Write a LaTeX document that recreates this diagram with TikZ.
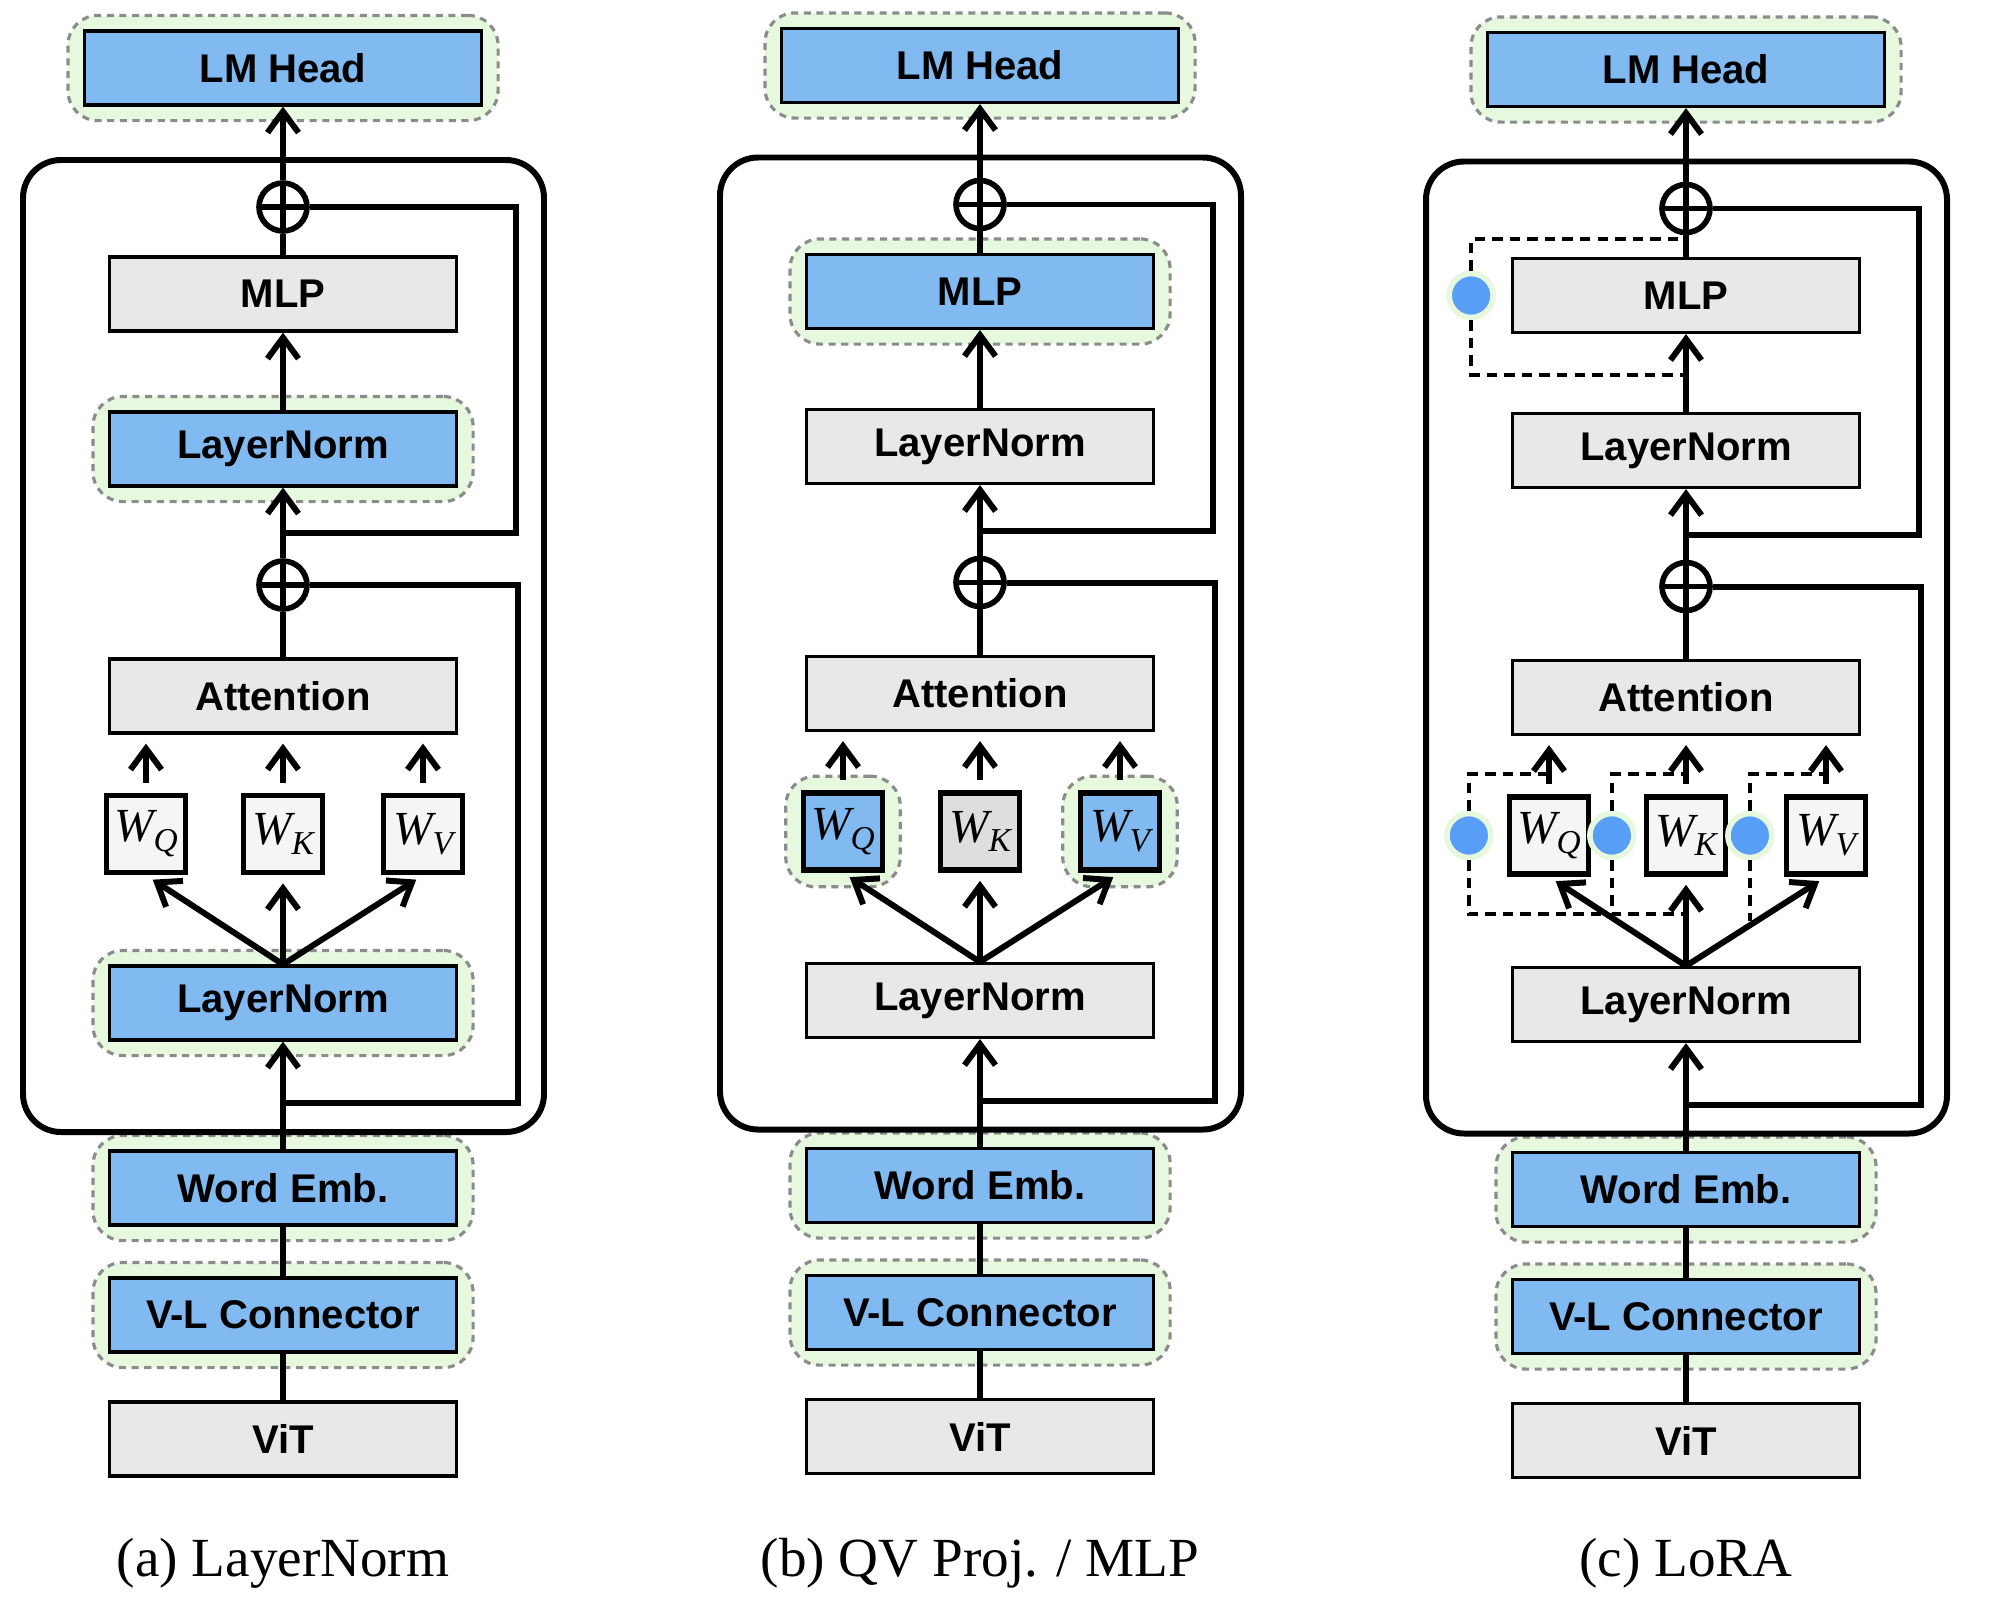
\documentclass[tikz,border=0pt]{standalone}
\usepackage{fontspec}
\setmainfont{Liberation Serif}
\setsansfont{Liberation Sans}
\usetikzlibrary{arrows.meta,positioning,fit,backgrounds,calc}

\definecolor{tunedblue}{RGB}{128,186,240}
\definecolor{frozengray}{RGB}{232,232,232}
\definecolor{wlight}{RGB}{245,245,245}
\definecolor{wdark}{RGB}{222,222,222}
\definecolor{halogreen}{RGB}{230,248,222}
\definecolor{halodash}{RGB}{140,140,140}
\definecolor{lorablue}{RGB}{88,158,246}

\newcommand{\wmat}[1]{{\itshape W}\raisebox{-0.45ex}{\fontsize{9.5}{10}\selectfont\itshape #1}}

\tikzset{
  blk/.style={draw, line width=0.9pt, minimum width=3.47cm, minimum height=0.74cm,
    inner sep=0pt, font=\sffamily\bfseries\fontsize{11.4}{13}\selectfont},
  tuned/.style={blk, fill=tunedblue},
  frozen/.style={blk, fill=frozengray},
  wbox/.style={draw, line width=1.6pt, minimum width=0.79cm, minimum height=0.77cm,
    inner sep=0pt, font=\fontsize{13.5}{15}\selectfont},
  wplain/.style={wbox, fill=wlight},
  wfrozen/.style={wbox, fill=wdark},
  wtuned/.style={wbox, fill=tunedblue},
  halo/.style={draw=halodash, fill=halogreen, dash pattern=on 2pt off 1.6pt,
    line width=0.9pt, rounded corners=0.3cm, inner xsep=0.15cm, inner ysep=0.14cm},
  addop/.style={circle, draw, line width=1.6pt, minimum size=0.48cm, inner sep=0pt,
    path picture={\draw[line width=1.6pt]
      (path picture bounding box.north) -- (path picture bounding box.south)
      (path picture bounding box.west) -- (path picture bounding box.east);}},
  conn/.style={line width=1.7pt},
  flow/.style={conn, -{Straight Barb[length=2.1mm,width=3.1mm]}},
  lora/.style={line width=1pt, dash pattern=on 3pt off 2pt},
  loradot/.style={circle, fill=lorablue, draw=halogreen, line width=1.6pt,
    minimum size=0.44cm, inner sep=0pt},
  block/.style={line width=1.7pt, rounded corners=0.38cm},
  caption/.style={font=\fontsize{15.7}{18}\selectfont}
}

\begin{document}
\begin{tikzpicture}
\useasboundingbox (0,0) rectangle (20.06,-16.07);

% one transformer column per setting
\foreach \p/\cx/\dy/\nup/\mlp/\ndown/\wq/\wk/\wv in {
    a/2.83/0/tuned/frozen/tuned/wplain/wplain/wplain,
    b/9.80/0.025/frozen/tuned/frozen/wtuned/wfrozen/wtuned,
    c/16.86/-0.015/frozen/frozen/frozen/wplain/wplain/wplain}{
  \begin{scope}[shift={(\cx,\dy)}]
    \draw[block] (-2.60,-1.60) rectangle (2.61,-11.32);
    \node[tuned, minimum width=3.97cm] (head\p) at (0,-0.68) {LM Head};
    \node[addop] (addup\p) at (0,-2.07) {};
    \node[\mlp] (mlp\p) at (0,-2.94) {MLP};
    \node[\nup] (normup\p) at (0,-4.49) {LayerNorm};
    \node[addop] (adddown\p) at (0,-5.85) {};
    \node[frozen] (attn\p) at (0,-6.96) {Attention};
    \node[\wq] (wq\p) at (-1.37,-8.34) {\wmat{Q}};
    \node[\wk] (wk\p) at (0,-8.34) {\wmat{K}};
    \node[\wv] (wv\p) at (1.40,-8.34) {\wmat{V}};
    \node[\ndown] (normdown\p) at (0,-10.03) {LayerNorm};
    \node[tuned] (emb\p) at (0,-11.88) {Word Emb.};
    \node[tuned] (vl\p) at (0,-13.15) {V-L Connector};
    \node[frozen] (vit\p) at (0,-14.39) {ViT};
    \coordinate (skipup\p) at (0,-5.33);
    \coordinate (skipdown\p) at (0,-11.03);

    \draw[conn] (vit\p) -- (vl\p);
    \draw[conn] (vl\p) -- (emb\p);
    \draw[flow] (emb\p) -- (normdown\p);
    \draw[flow, shorten >=0.08cm] (normdown\p.north) -- (wq\p.south);
    \draw[flow, shorten >=0.08cm] (normdown\p.north) -- (wk\p.south);
    \draw[flow, shorten >=0.08cm] (normdown\p.north) -- (wv\p.south);
    \draw[flow, shorten <=0.1cm, shorten >=0.09cm] (wq\p.north) -- (wq\p.north |- attn\p.south);
    \draw[flow, shorten <=0.1cm, shorten >=0.09cm] (wk\p.north) -- (wk\p.north |- attn\p.south);
    \draw[flow, shorten <=0.1cm, shorten >=0.09cm] (wv\p.north) -- (wv\p.north |- attn\p.south);
    \draw[conn] (attn\p) -- (adddown\p);
    \draw[flow] (adddown\p) -- (normup\p);
    \draw[flow] (normup\p) -- (mlp\p);
    \draw[conn] (mlp\p) -- (addup\p);
    \draw[flow] (addup\p) -- (head\p);
    \draw[conn] (skipdown\p) -- ++(2.35,0) |- (adddown\p.east);
    \draw[conn] (skipup\p) -- ++(2.33,0) |- (addup\p.east);
  \end{scope}
}

% trained parts
\begin{scope}[on background layer]
  \foreach \n in {heada,normupa,normdowna,emba,vla,
                  headb,mlpb,wqb,wvb,embb,vlb,
                  headc,embc,vlc}
    \node[halo, fit=(\n)] {};
\end{scope}

% LoRA adapters
\node[loradot, left=0.15cm of mlpc] (dotm) {};
\node[loradot, left=0.13cm of wqc] (dotq) {};
\node[loradot, left=0.07cm of wkc] (dotk) {};
\node[loradot, left=0.09cm of wvc] (dotv) {};
\coordinate (jq) at ($(normdownc.north)!0.58!(wqc.south)$);
\coordinate (jk) at ($(normdownc.north)!0.58!(wkc.south)$);
\coordinate (jv) at ($(normdownc.north)!0.5!(wvc.south)$);
\draw[lora] (dotm.north) |- ([yshift=0.18cm]mlpc.north);
\draw[lora] (dotm.south) |- ([yshift=-0.41cm]mlpc.south);
\draw[lora] (dotq.north) |- ([yshift=0.2cm]wqc.north);
\draw[lora] (dotq.south) |- (jq);
\draw[lora] (dotk.north) |- ([yshift=0.2cm]wkc.north);
\draw[lora] (dotk.south) |- (jk);
\draw[lora] (dotv.north) |- ([yshift=0.2cm]wvc.north);
\draw[lora] (dotv.south) -- (dotv.south |- jv);

\node[caption] (capa) at (2.83,-15.63) {(a) LayerNorm};
\node[caption] (capb) at (9.80,-15.63) {(b) QV Proj. / MLP};
\node[caption] (capc) at (16.86,-15.63) {(c) LoRA};
\end{tikzpicture}
\end{document}
